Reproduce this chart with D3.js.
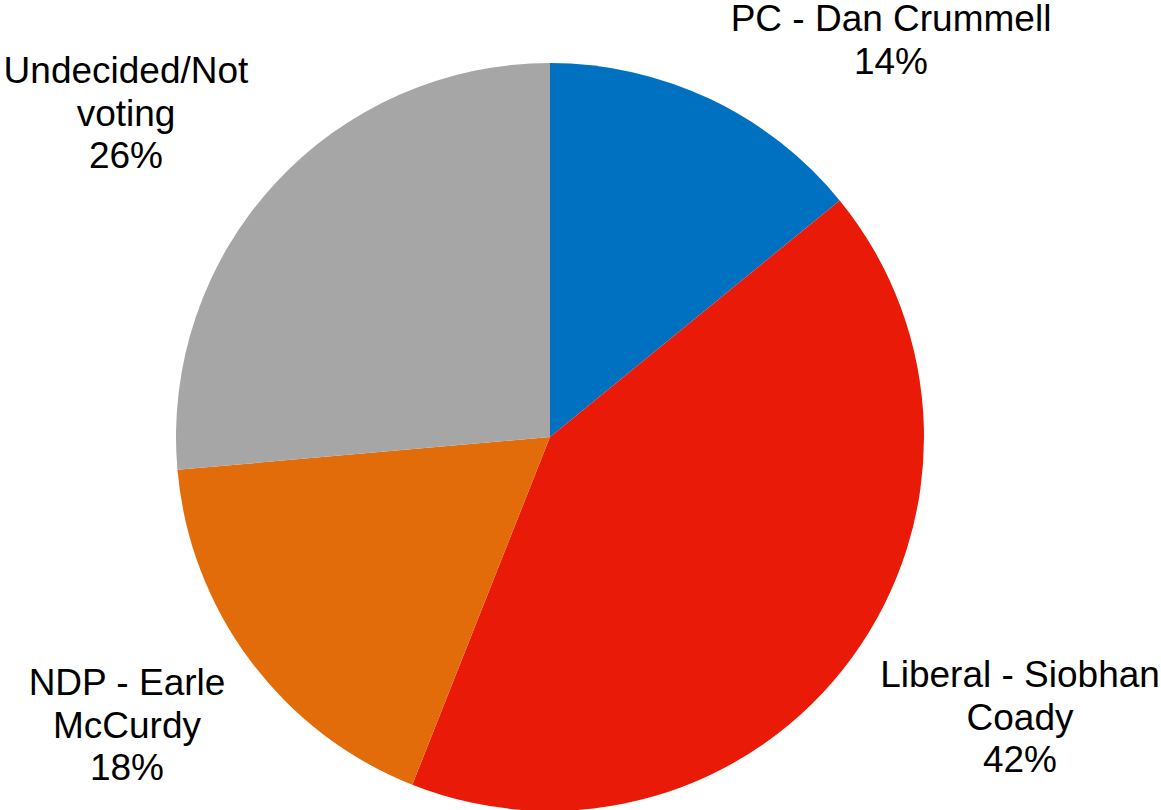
<!DOCTYPE html>
<html>
<head>
<meta charset="utf-8">
<script src="https://cdn.jsdelivr.net/npm/d3@7"></script>
<style>
  html, body { margin: 0; padding: 0; background: #ffffff; }
  svg { display: block; }
</style>
</head>
<body>
<svg id="chart" width="1161" height="810"></svg>
<script>
const categories = ["PC - Dan Crummell", "Liberal - Siobhan Coady", "NDP - Earle McCurdy", "Undecided/Not voting"];
const values = [14.1, 41.9, 17.6, 26.4];
const colors = ["#0070C0", "#E91A08", "#E36C0A", "#A6A6A6"];
const labelLines = [
  ["PC - Dan Crummell"],
  ["Liberal - Siobhan", "Coady"],
  ["NDP - Earle", "McCurdy"],
  ["Undecided/Not", "voting"]
];
const labelAnchors = [[891, 31], [1020, 687], [127, 695], [126, 83]];

const svg = d3.select("#chart");
const cx = 550, cy = 437, r = 374;
const data = categories.map((c, i) => ({ name: c, value: values[i], color: colors[i], lines: labelLines[i], anchor: labelAnchors[i] }));

const pie = d3.pie().value(d => d.value).sort(null).startAngle(0).endAngle(2 * Math.PI);
const arc = d3.arc().innerRadius(0).outerRadius(r);

const g = svg.append("g").attr("transform", `translate(${cx},${cy})`);
g.selectAll("path").data(pie(data)).enter().append("path")
  .attr("d", arc)
  .attr("fill", d => d.data.color);

const lineH = 42.5;
const labels = svg.append("g")
  .attr("font-family", "'Liberation Sans', Arial, sans-serif")
  .attr("font-size", 37)
  .attr("fill", "#000")
  .attr("text-anchor", "middle");

data.forEach(d => {
  const t = labels.append("text").attr("x", d.anchor[0]).attr("y", d.anchor[1]);
  const lines = d.lines.concat([Math.round(d.value) + "%"]);
  lines.forEach((ln, i) => {
    t.append("tspan").attr("x", d.anchor[0]).attr("dy", i === 0 ? 0 : lineH).text(ln);
  });
});
</script>
</body>
</html>
